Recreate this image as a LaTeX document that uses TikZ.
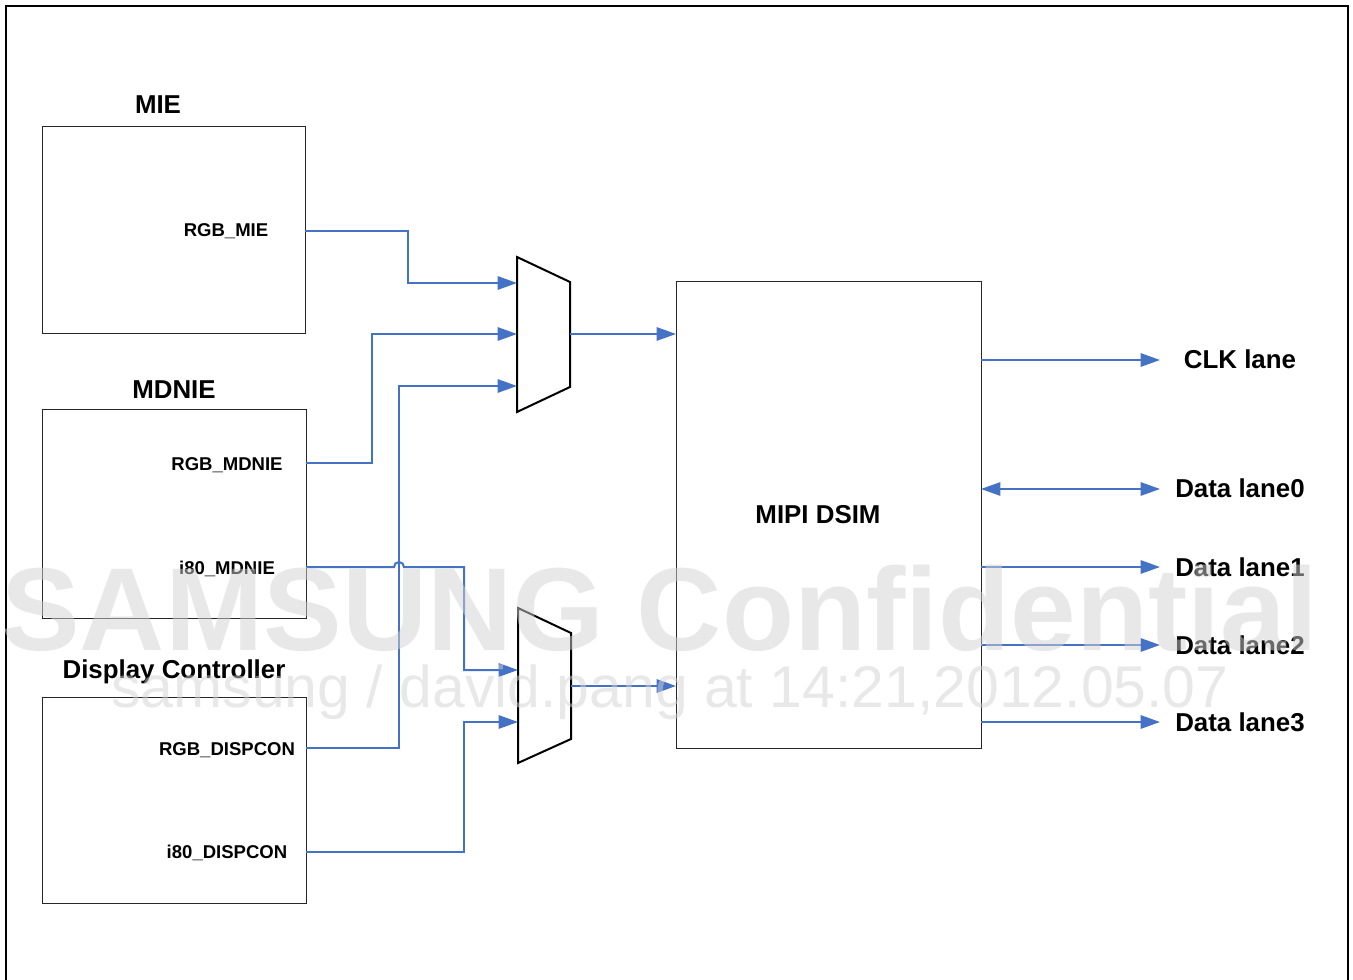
\documentclass[tikz,border=0pt]{standalone}
\usepackage{fontspec}
\setmainfont{Liberation Sans}
\usetikzlibrary{arrows.meta,calc}
\definecolor{wirec}{RGB}{68,114,196}
\definecolor{wmc}{RGB}{210,210,210}
\begin{document}
\begin{tikzpicture}[x=0.75pt,y=-0.75pt,
 blk/.style={draw=black!85,line width=0.75pt,inner sep=0,outer sep=0,fill=none},
 ttl/.style={font=\bfseries\fontsize{19.4pt}{22pt}\selectfont,inner sep=0,anchor=base},
 port/.style={font=\bfseries\fontsize{13.9pt}{16pt}\selectfont,inner sep=0,anchor=base},
 wire/.style={draw=wirec,line width=1.5pt,-{Triangle[length=14.5pt,width=10pt]}},
 dwire/.style={draw=wirec,line width=1.5pt,{Triangle[length=14.5pt,width=10pt]}-{Triangle[length=14.5pt,width=10pt]}},
 muxs/.style={draw=black,line width=1.5pt,line join=miter},
 wmtext/.style={text=wmc,text opacity=0.5,inner sep=0,anchor=base}]
\useasboundingbox (0,0) rectangle (1353,980);
% outer frame
\draw[line width=2pt] (6,995) -- (6,6) -- (1348,6) -- (1348,995);

% blocks
\node[blk,minimum width=197.25pt,minimum height=155.25pt] (MIE) at (173.5,230.5) {};
\node[blk,minimum width=198pt,minimum height=156pt] (MDNIE) at (174,514) {};
\node[blk,minimum width=198pt,minimum height=154.5pt] (DISP) at (174,800) {};
\node[blk,minimum width=228.75pt,minimum height=349.5pt] (DSIM) at (828.5,515) {};

% titles
\node[ttl] (tMIE) at (158,114) {MIE};
\node[ttl] (tMDNIE) at (174,399) {MDNIE};
\node[ttl] (tDISP) at (174,678) {Display Controller};
\node[ttl] (tDSIM) at (818,523) {MIPI DSIM};

% port labels
\node[port] (pRGBMIE) at (226,237) {RGB\_MIE};
\node[port] (pRGBMDNIE) at (227,470) {RGB\_MDNIE};
\node[port] (pI80MDNIE) at (227,574) {i80\_MDNIE};
\node[port] (pRGBDISP) at (227,755) {RGB\_DISPCON};
\node[port] (pI80DISP) at (227,858) {i80\_DISPCON};

% lane labels
\node[ttl] (lclk) at (1240,369) {CLK lane};
\node[ttl] (l0) at (1240,498) {Data lane0};
\node[ttl] (l1) at (1240,576) {Data lane1};
\node[ttl] (l2) at (1240,654) {Data lane2};
\node[ttl] (l3) at (1240,731) {Data lane3};

% muxes
\draw[muxs] (517,257) -- (570,282) -- (570,387) -- (517,412) -- cycle;
\draw[muxs] (518,608) -- (571,633) -- (571,739) -- (518,763) -- cycle;
\coordinate (m1a) at (517,283);
\coordinate (m1b) at (517,334);
\coordinate (m1c) at (517,386);
\coordinate (m1o) at (570,334);
\coordinate (m2a) at (518,670);
\coordinate (m2b) at (518,722);
\coordinate (m2o) at (571,686);

% input wires
\draw[wire] (MIE.east |- 0,231) -- (408,231) |- (m1a);
\draw[wire] (MDNIE.east |- 0,463) -- (372,463) |- (m1b);
\draw[wire] (DISP.east |- 0,748) -- (399,748) |- (m1c);
\draw[wire] (MDNIE.east |- 0,567) -- (394,567) arc[start angle=180,end angle=360,radius=5] -- (464,567) |- (m2a);
\draw[wire] (DISP.east |- 0,852) -- (464,852) |- (m2b);

% mux outputs
\draw[wire] (m1o) -- (DSIM.west |- m1o);
\draw[wire] (m2o) -- (DSIM.west |- m2o);

% lanes
\coordinate (eclk) at (1160,360);
\coordinate (e0) at (1160,489);
\coordinate (e1) at (1160,567);
\coordinate (e2) at (1160,645);
\coordinate (e3) at (1160,722);
\draw[wire] (DSIM.east |- eclk) -- (eclk);
\draw[dwire] (DSIM.east |- e0) -- (e0);
\draw[wire] (DSIM.east |- e1) -- (e1);
\draw[wire] (DSIM.east |- e2) -- (e2);
\draw[wire] (DSIM.east |- e3) -- (e3);

% watermark
\node[wmtext,font=\bfseries\fontsize{88.5pt}{90pt}\selectfont] (wm1) at (660,650) {SAMSUNG Confidential};
\node[wmtext,font=\fontsize{44.2pt}{46pt}\selectfont] (wm2) at (670,707) {samsung / david.pang at 14:21,2012.05.07};
\end{tikzpicture}
\end{document}
